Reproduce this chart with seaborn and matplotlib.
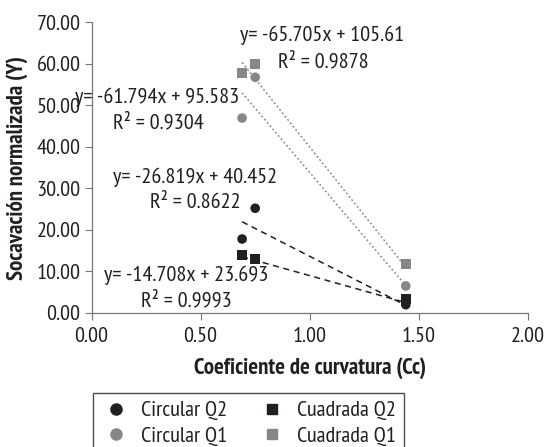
import numpy as np
import pandas as pd
import matplotlib
matplotlib.use("Agg")
import matplotlib.pyplot as plt
import seaborn as sns
from matplotlib.lines import Line2D

# Curvature coefficient (Cc) for each test and normalized scour depth per series
cc = [0.69, 0.75, 1.44]
circular_q2 = [17.8, 25.2, 2.0]
cuadrada_q2 = [13.9, 13.0, 3.3]
circular_q1 = [46.9, 56.7, 6.5]
cuadrada_q1 = [57.7, 59.9, 11.8]

series_names = ["Circular Q2", "Cuadrada Q2", "Circular Q1", "Cuadrada Q1"]
series_values = [circular_q2, cuadrada_q2, circular_q1, cuadrada_q1]

# Linear trendlines (slope, intercept, R²)
slopes = [-26.819, -14.708, -61.794, -65.705]
intercepts = [40.452, 23.693, 95.583, 105.61]
r2_values = [0.8622, 0.9993, 0.9304, 0.9878]

x_ticks = [0.0, 0.5, 1.0, 1.5, 2.0]
y_ticks = [0, 10, 20, 30, 40, 50, 60, 70]

BLACK = "#231f20"
GRAY = "#87878a"
colors = {"Circular Q2": BLACK, "Cuadrada Q2": BLACK,
          "Circular Q1": GRAY, "Cuadrada Q1": GRAY}
markers = {"Circular Q2": "o", "Cuadrada Q2": "s",
           "Circular Q1": "o", "Cuadrada Q1": "s"}

df = pd.DataFrame({
    "Cc": np.tile(cc, len(series_names)),
    "Y": np.concatenate(series_values),
    "serie": np.repeat(series_names, len(cc)),
})

sns.set_style("white")
plt.rcParams["font.family"] = ["PT Sans Narrow", "DejaVu Sans"]
plt.rcParams["text.color"] = BLACK

FS = 16

fig = plt.figure(figsize=(5.45, 4.47), dpi=100)
W, H = 545, 447
ax = fig.add_axes([91.5 / W, 1 - 313 / H, (528 - 91.5) / W, (313 - 22) / H])

# Trendlines drawn across the data range
xs = np.array([min(cc), max(cc)])
for name, m, b in zip(series_names, slopes, intercepts):
    if "Q2" in name:
        ax.plot(xs, m * xs + b, color=BLACK, lw=1.1, ls=(0, (4, 3)), zorder=1)
    else:
        ax.plot(xs, m * xs + b, color=GRAY, lw=1.1, ls=(0, (1.2, 1.6)), zorder=1)

sns.scatterplot(data=df, x="Cc", y="Y", hue="serie", style="serie",
                palette=colors, markers=markers, s=48, linewidth=0,
                hue_order=series_names, style_order=series_names,
                legend=False, ax=ax, zorder=3)

ax.set_xlim(0, 2)
ax.set_ylim(0, 70)
ax.set_xticks(x_ticks)
ax.set_yticks(y_ticks)
ax.set_xticklabels([f"{v:.2f}" for v in x_ticks], fontsize=FS, color=BLACK)
ax.set_yticklabels([f"{v:.2f}" for v in y_ticks], fontsize=FS, color=BLACK)
ax.tick_params(axis="both", direction="out", length=5, width=0.8,
               color="#777777", pad=3, left=True, bottom=True)
ax.tick_params(axis="x", pad=5)
for side in ["top", "right"]:
    ax.spines[side].set_visible(False)
for side in ["left", "bottom"]:
    ax.spines[side].set_color("#777777")
    ax.spines[side].set_linewidth(0.9)

ax.set_xlabel("Coeficiente de curvatura (Cc)", fontsize=FS + 0.5, fontweight="bold",
              labelpad=8, color=BLACK)
ax.set_ylabel("Socavación normalizada (Y)", fontsize=FS + 0.5, fontweight="bold",
              labelpad=6, color=BLACK)

# Trendline equations
eq_pos = {
    "Cuadrada Q1": ((1.057, 66.8), (1.06, 60.3)),
    "Circular Q1": ((0.30, 51.9), (0.305, 45.7)),
    "Circular Q2": ((0.475, 32.7), (0.475, 26.7)),
    "Cuadrada Q2": ((0.436, 9.1), (0.436, 2.9)),
}
for name, m, b, r2 in zip(series_names, slopes, intercepts, r2_values):
    (ex, ey), (rx, ry) = eq_pos[name]
    ax.text(ex, ey, f"y= {m:g}x + {b:g}", fontsize=FS, ha="center", va="center",
            zorder=4)
    ax.text(rx, ry, f"R² = {r2:.4f}", fontsize=FS, ha="center", va="center",
            zorder=4)

handles = [Line2D([], [], ls="", marker=markers[n], color=colors[n],
                  markersize=8 if markers[n] == "o" else 7, label=n)
           for n in ["Circular Q2", "Circular Q1", "Cuadrada Q2", "Cuadrada Q1"]]
fig.legend(handles=handles, ncol=2, loc="upper left",
           bbox_to_anchor=(93 / W, 1 - 393 / H), fontsize=FS, frameon=True,
           fancybox=False, edgecolor=BLACK, borderpad=0.35, handletextpad=0.4,
           columnspacing=1.35, labelspacing=0.27, handlelength=1.4,
           borderaxespad=0.0)

fig.savefig("out.png", dpi=100)
